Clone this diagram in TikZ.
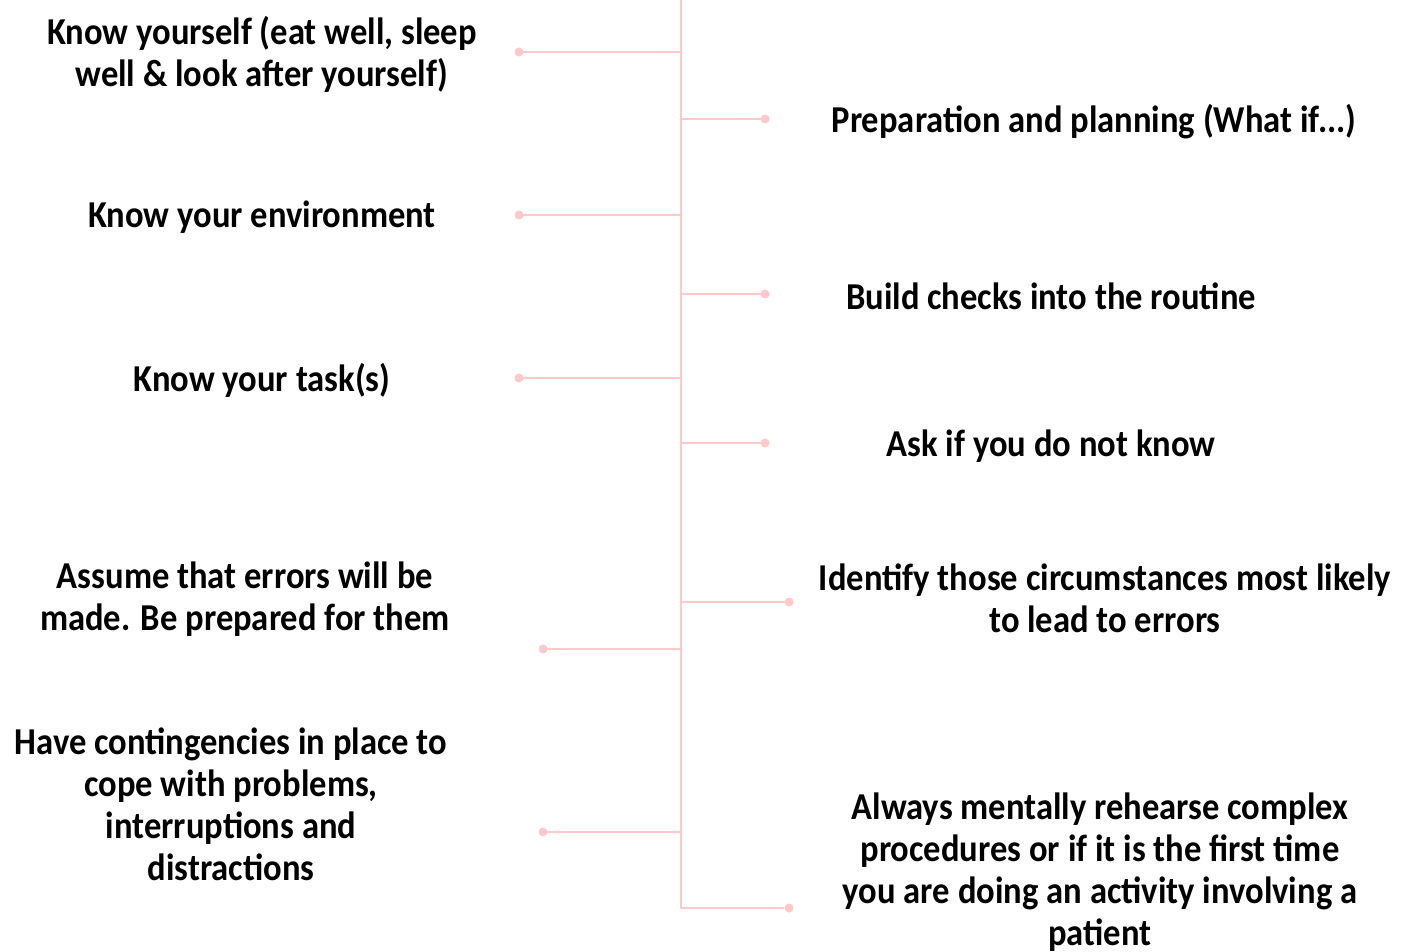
\documentclass[tikz,border=0pt]{standalone}
\usepackage{fontspec}
\setmainfont{Carlito}[FakeStretch=0.91]
\definecolor{linkpink}{HTML}{FFC9C9}
\begin{document}
\begin{tikzpicture}[x=1pt,y=-1pt,
  branch/.style={draw=linkpink, line width=2.4pt},
  tip/.style={circle, fill=linkpink, inner sep=0pt, minimum size=9pt},
  label/.style={align=center, font=\fontsize{38}{42}\selectfont\bfseries, inner sep=0pt}]
\useasboundingbox (0,0) rectangle (1414,952);

% trunk
\coordinate (top) at (681,0);
\coordinate (bot) at (681,908);

% left branch ends
\node[tip] (l1) at (519,52) {};
\node[tip] (l2) at (519,215) {};
\node[tip] (l3) at (519,378) {};
\node[tip] (l4) at (543,649) {};
\node[tip] (l5) at (543,832) {};
% right branch ends
\node[tip] (r1) at (765,119) {};
\node[tip] (r2) at (765,294) {};
\node[tip] (r3) at (765,443) {};
\node[tip] (r4) at (789,602) {};
\node[tip] (r5) at (789,908) {};

\draw[branch] (top) -- (bot) -- (r5);
\foreach \n/\y in {l1/52,l2/215,l3/378,l4/649,l5/832,r1/119,r2/294,r3/443,r4/602}
  \draw[branch] (\n.center) -- (681,\y);

% labels
\node[label] (t1) at (262,54) {Know yourself (eat well, sleep\\well \& look after yourself)};
\node[label] (t2) at (262,217) {Know your environment};
\node[label] (t3) at (262,380) {Know your task(s)};
\node[label] (t4) at (245,599) {Assume that errors will be\\made. Be prepared for them};
\node[label] (t5) at (231,804) {Have contingencies in place to\\cope with problems,\\interruptions and\\distractions};
\node[label] (t6) at (1094,122) {Preparation and planning (What if...)};
\node[label] (t7) at (1051,296) {Build checks into the routine};
\node[label] (t8) at (1051,446) {Ask if you do not know};
\node[label] (t9) at (1105,598) {Identify those circumstances most likely\\to lead to errors};
\node[label] (t10) at (1100,872) {Always mentally rehearse complex\\procedures or if it is the first time\\you are doing an activity involving a\\patient};
\end{tikzpicture}
\end{document}
